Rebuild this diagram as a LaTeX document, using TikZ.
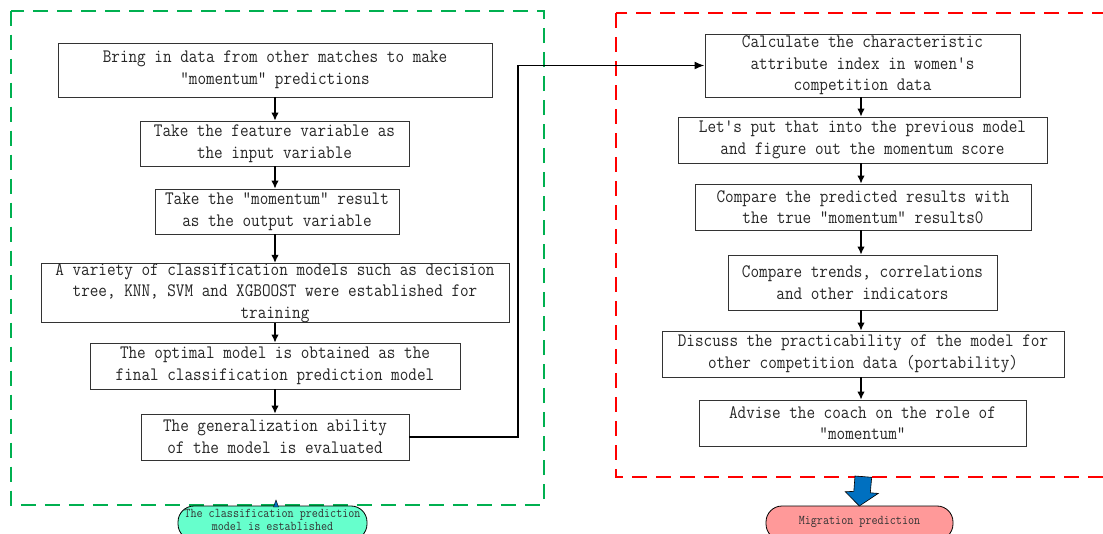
\documentclass[tikz,border=0pt]{standalone}
\usepackage{fontspec}
\setmonofont[FakeStretch=0.88]{Latin Modern Mono}
\usetikzlibrary{arrows.meta,calc}
\definecolor{grp}{HTML}{00B050}
\definecolor{rdp}{HTML}{FF0000}
\definecolor{cyfill}{HTML}{66FFCC}
\definecolor{pkfill}{HTML}{FF9999}
\definecolor{blarrow}{HTML}{0070C0}
\newcommand\mainfnt{\fontsize{19}{21.6}\selectfont\ttfamily}
\newcommand\smallfnt{\fontsize{13.4}{12.2}\selectfont\ttfamily}
\begin{document}
\begin{tikzpicture}[x=1pt,y=-1pt,
  stepbox/.style={draw=black!80, line width=0.9pt, fill=white, align=center,
    inner sep=0pt, font=\mainfnt, text=black!85},
  arr/.style={-{Latex[length=8pt,width=7.5pt]}, line width=1.2pt},
  conn/.style={-{Latex[length=10pt,width=8pt]}, line width=1.7pt},
  region/.style={line width=2pt, dash pattern=on 15pt off 9pt},
  stadium/.style={draw=black, line width=0.8pt, inner sep=0pt},
  smalltxt/.style={font=\smallfnt, text=black!80, align=center, inner sep=0pt}
]
\clip (0,0) rectangle (1103,534);
\fill[white] (0,0) rectangle (1103,534);

% dashed regions
\draw[region, grp] (10.7,10.7) rectangle (543.6,504.5);
\draw[region, rdp] (616,13.3) rectangle (1130,477);

% left column
\node[stepbox, minimum width=434pt, minimum height=54pt] (L1) at (275,70)
  {Bring in data from other matches to make\\"momentum" predictions};
\node[stepbox, minimum width=269pt, minimum height=45pt] (L2) at (274.5,143.5)
  {Take the feature variable as\\the input variable};
\node[stepbox, minimum width=244pt, minimum height=45pt] (L3) at (277,211.5)
  {Take the "momentum" result\\as the output variable};
\node[stepbox, minimum width=468pt, minimum height=54pt] (L4) at (275,293)
  {A variety of classification models such as decision\\tree, KNN, SVM and XGBOOST were established for\\training};
\node[stepbox, minimum width=370pt, minimum height=46pt] (L5) at (275,366)
  {The optimal model is obtained as the\\final classification prediction model};
\node[stepbox, minimum width=268pt, minimum height=46pt] (L6) at (275,437)
  {The generalization ability\\of the model is evaluated};

\coordinate (lx) at (275,0);
\draw[arr] (L1.south -| lx) -- (L2.north -| lx);
\draw[arr] (L2.south -| lx) -- (L3.north -| lx);
\draw[arr] (L3.south -| lx) -- (L4.north -| lx);
\draw[arr] (L4.south -| lx) -- (L5.north -| lx);
\draw[arr] (L5.south -| lx) -- (L6.north -| lx);

% right column
\node[stepbox, minimum width=315pt, minimum height=63pt] (R1) at (862.5,65.5)
  {Calculate the characteristic\\attribute index in women's\\competition data};
\node[stepbox, minimum width=369pt, minimum height=46pt] (R2) at (862.5,140)
  {Let's put that into the previous model\\and figure out the momentum score};
\node[stepbox, minimum width=336pt, minimum height=46pt] (R3) at (863,207)
  {Compare the predicted results with\\the true "momentum" results0};
\node[stepbox, minimum width=269pt, minimum height=55pt] (R4) at (862.5,282.5)
  {Compare trends, correlations\\and other indicators};
\node[stepbox, minimum width=402pt, minimum height=46pt] (R5) at (863,354)
  {Discuss the practicability of the model for\\other competition data (portability)};
\node[stepbox, minimum width=327pt, minimum height=46pt] (R6) at (862.5,423)
  {Advise the coach on the role of\\"momentum"};

\coordinate (rx) at (861,0);
\draw[arr] (R1.south -| rx) -- (R2.north -| rx);
\draw[arr] (R2.south -| rx) -- (R3.north -| rx);
\draw[arr] (R3.south -| rx) -- (R4.north -| rx);
\draw[arr] (R4.south -| rx) -- (R5.north -| rx);
\draw[arr] (R5.south -| rx) -- (R6.north -| rx);

% connector between the columns
\coordinate (jx) at (518,0);
\draw[conn] (L6.east) -- (L6.east -| jx) -- (jx |- R1.west) -- (R1.west);

% bottom labels
\node[stadium, fill=cyfill, minimum width=189pt, minimum height=34pt, rounded corners=16pt] (cy) at (272.5,523) {};
\node[smalltxt] (cyt) at ($(cy.center)+(0,-3)$) {The classification prediction\\model is established};
\draw[fill=blarrow, draw=black, line width=0.4pt] (276,500) -- (278.5,507) -- (273.5,507) -- cycle;

\node[stadium, fill=pkfill, minimum width=187pt, minimum height=34pt, rounded corners=16pt] (pk) at (859.5,523) {};
\node[smalltxt] (pkt) at ($(pk.center)+(0,-1.5)$) {Migration prediction};

% blue block arrow
\draw[fill=blarrow, draw=black, line width=0.6pt]
  (855,476) -- (871.7,477.3) -- (870.3,492.8) -- (878.3,493.4) -- (859.3,506)
  -- (845.3,491.7) -- (853.8,491.4) -- cycle;
\end{tikzpicture}
\end{document}
